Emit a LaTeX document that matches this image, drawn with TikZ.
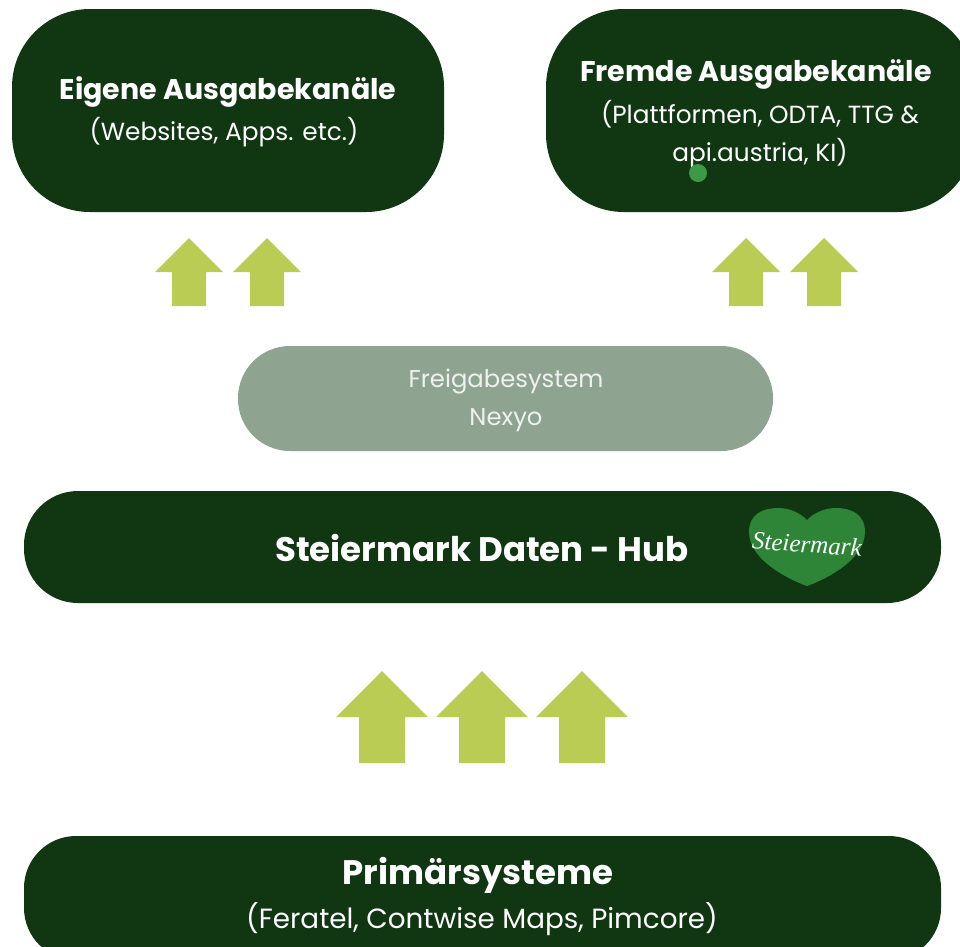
\documentclass[tikz,border=0pt]{standalone}
\usepackage{fontspec}
\setmainfont{Poppins}
\newfontfamily\logofont{Liberation Serif}
\definecolor{dk}{HTML}{103612}
\definecolor{lime}{HTML}{BBCC55}
\definecolor{sage}{HTML}{8FA391}
\definecolor{grn}{HTML}{2E8538}
\definecolor{dotgrn}{HTML}{3C9A46}
\tikzset{
 box/.style={fill=dk,draw=none,rounded corners=#1},
 up/.style={fill=lime,draw=none},
 ttl/.style={text=white,font=\bfseries\fontsize{28.5}{34}\selectfont,align=center,inner sep=0pt},
 sub/.style={text=white,font=\fontsize{24.8}{38}\selectfont,align=center,inner sep=0pt},
}
\newcommand{\arrowup}[5]{\fill[up] (#1,#2) -- (#1+#3,#2+#4) -- (#1+#5,#2+#4) -- (#1+#5,#2+#4+#4) -- (#1-#5,#2+#4+#4) -- (#1-#5,#2+#4) -- (#1-#3,#2+#4) -- cycle;}
\begin{document}
\begin{tikzpicture}[x=1pt,y=-1pt]
\useasboundingbox (0,0) rectangle (960,946);
\fill[white] (0,0) rectangle (960,946);
\begin{scope}
\clip (0,0) rectangle (960,946);
\fill[box=78] (12,9) rectangle (444,212);
\fill[box=78] (546,9) rectangle (975,212);
\fill[box=52] (24,836) rectangle (941,960);
\end{scope}
\node[ttl] (a) at (228,92) {Eigene Ausgabekanäle};
\node[sub] (b) at (224,132) {(Websites, Apps. etc.)};
\node[ttl] (c) at (756,74) {Fremde Ausgabekanäle};
\node[sub] (d) at (760,134) {(Plattformen, ODTA, TTG \&\\api.austria, KI)};
\fill[dotgrn] (698,173) circle (9);
\arrowup{189}{238}{34}{34}{17}
\arrowup{267}{238}{34}{34}{17}
\arrowup{746}{238}{34}{34}{17}
\arrowup{824}{238}{34}{34}{17}
\fill[fill=sage,rounded corners=52] (238,346) rectangle (773,451);
\node[sub,text=white!85!sage,font=\fontsize{24.3}{38}\selectfont] (e) at (506,400) {Freigabesystem\\Nexyo};
\fill[box=54] (24,491) rectangle (941,603);
\node[ttl,font=\bfseries\fontsize{34}{38}\selectfont] (f) at (482,548) {Steiermark Daten - Hub};
\fill[grn] (807,586) .. controls (795,582) and (749,562) .. (749,532) .. controls (749,514) and (763,508) .. (778,508) .. controls (790,508) and (800,513) .. (807,520) .. controls (814,513) and (824,508) .. (836,508) .. controls (851,508) and (865,514) .. (865,532) .. controls (865,562) and (819,582) .. (807,586) -- cycle;
\node[text=white,font=\logofont\itshape\fontsize{25}{27}\selectfont,rotate=-4,inner sep=0pt] (g) at (807,544) {Steiermark};
\arrowup{382}{671}{46}{46}{23}
\arrowup{482}{671}{46}{46}{23}
\arrowup{582}{671}{46}{46}{23}
\node[ttl,font=\bfseries\fontsize{34}{38}\selectfont] (h) at (478,875) {Primärsysteme};
\node[sub,font=\fontsize{27.8}{32}\selectfont] (i) at (482,919) {(Feratel, Contwise Maps, Pimcore)};
\end{tikzpicture}
\end{document}
